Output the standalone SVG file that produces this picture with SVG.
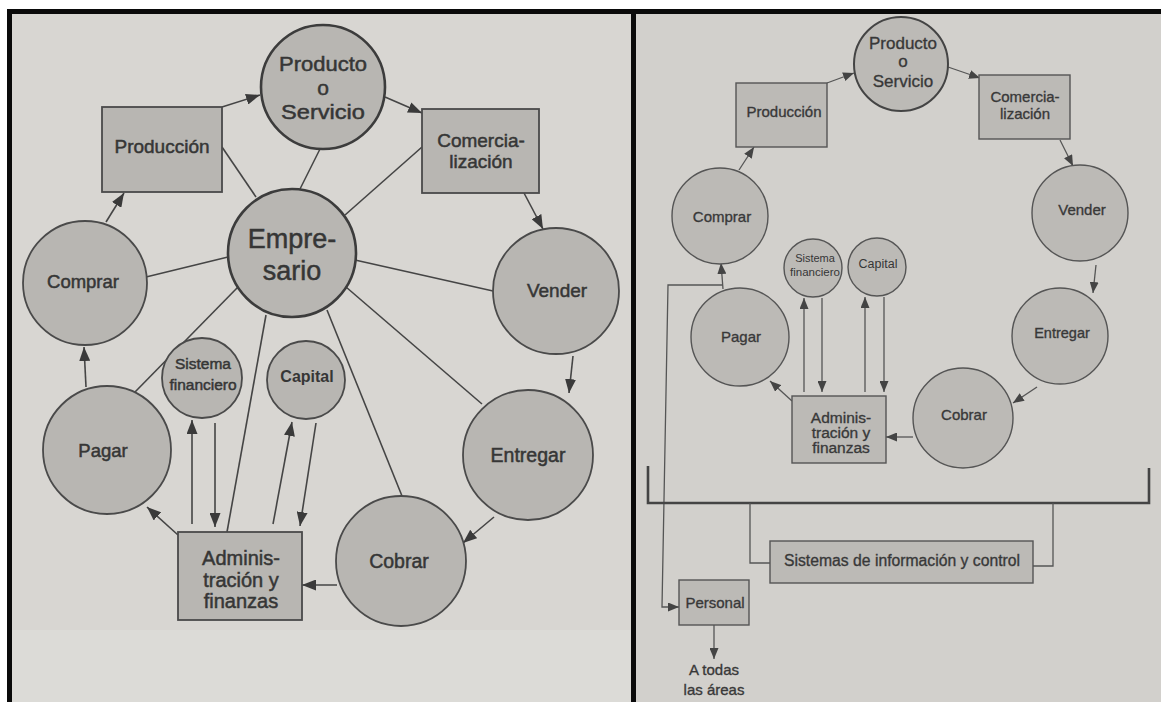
<svg xmlns="http://www.w3.org/2000/svg" width="1161" height="702" viewBox="0 0 1161 702">
  <defs>
    <style>
      .paperL { fill: #d8d6d2; }
      .paperR { fill: #d2d0cc; }
      .frame { fill: #0a0a0a; }
      .nodeL { fill: #b8b6b2; stroke: #4a4a4a; stroke-width: 1.8; }
      .nodeLb { fill: #b8b6b2; stroke: #3c3c3c; stroke-width: 2.6; }
      .nodeR { fill: #bcbab6; stroke: #555; stroke-width: 1.4; }
      .nodeRb { fill: #bcbab6; stroke: #444; stroke-width: 2; }
      .linkL { fill: none; stroke: #454545; stroke-width: 1.6; }
      .arrL { fill: none; stroke: #454545; stroke-width: 1.6; marker-end: url(#headL); }
      .linkR { fill: none; stroke: #555; stroke-width: 1.3; }
      .arrR { fill: none; stroke: #555; stroke-width: 1.3; marker-end: url(#headR); }
      .brace { fill: none; stroke: #444; stroke-width: 2.6; }
      text { font-family: "Liberation Sans", Arial, sans-serif; fill: #363636; text-anchor: middle; }
      .tl { stroke: #363636; stroke-width: 0.5; }
      .tr { stroke: #3e3e3e; stroke-width: 0.35; }
    </style>
    <marker id="headL" viewBox="0 0 10 10" refX="10" refY="5" markerUnits="userSpaceOnUse" markerWidth="14" markerHeight="11" orient="auto" preserveAspectRatio="none">
      <path d="M0,0 L10,5 L0,10 z" fill="#3a3a3a"/>
    </marker>
    <marker id="headR" viewBox="0 0 10 10" refX="10" refY="5" markerUnits="userSpaceOnUse" markerWidth="11" markerHeight="9" orient="auto" preserveAspectRatio="none">
      <path d="M0,0 L10,5 L0,10 z" fill="#444"/>
    </marker>
  </defs>

  <!-- page background and black frame -->
  <rect x="0" y="0" width="1161" height="702" fill="#ffffff"/>
  <rect class="paperL" x="7" y="9" width="627" height="693"/>
  <rect class="paperR" x="634" y="9" width="527" height="693"/>
  <rect x="12" y="630" width="619" height="72" fill="#dcdbd7"/>
  <rect class="frame" x="7" y="9" width="1154" height="5"/>
  <rect class="frame" x="7" y="9" width="5" height="693"/>
  <rect class="frame" x="631" y="9" width="5" height="693"/>

  <!-- ===== Left diagram: connectors ===== -->
  <g id="connectors-left">
    <line class="linkL" x1="256" y1="197" x2="222" y2="147"/>
    <line class="linkL" x1="300" y1="189" x2="320" y2="149"/>
    <line class="linkL" x1="345" y1="215" x2="422" y2="147"/>
    <line class="linkL" x1="228" y1="257" x2="146" y2="277"/>
    <line class="linkL" x1="355" y1="260" x2="493" y2="291"/>
    <line class="linkL" x1="238" y1="287" x2="135" y2="392"/>
    <line class="linkL" x1="266" y1="315" x2="227" y2="532"/>
    <line class="linkL" x1="327" y1="310" x2="402" y2="496"/>
    <line class="linkL" x1="346" y1="287" x2="482" y2="404"/>

    <line class="arrL" x1="222" y1="107" x2="260" y2="95"/>
    <line class="arrL" x1="385" y1="97" x2="422" y2="113"/>
    <line class="arrL" x1="524" y1="193" x2="543" y2="229"/>
    <line class="arrL" x1="573" y1="356" x2="569" y2="393"/>
    <line class="arrL" x1="494" y1="517" x2="463" y2="543"/>
    <line class="arrL" x1="337" y1="585" x2="302" y2="585"/>
    <line class="arrL" x1="178" y1="535" x2="147" y2="507"/>
    <line class="arrL" x1="86" y1="387" x2="84" y2="347"/>
    <line class="arrL" x1="106" y1="222" x2="124" y2="193"/>

    <line class="arrL" x1="192" y1="524" x2="192" y2="420"/>
    <line class="arrL" x1="215" y1="423" x2="215" y2="527"/>
    <line class="arrL" x1="273" y1="524" x2="292" y2="422"/>
    <line class="arrL" x1="316" y1="423" x2="300" y2="526"/>
  </g>

  <!-- ===== Left diagram: nodes ===== -->
  <g id="l-producto">
    <circle class="nodeLb" cx="323" cy="87" r="62"/>
    <text class="tl" font-size="21"><tspan x="323" y="71" textLength="88" lengthAdjust="spacingAndGlyphs">Producto</tspan><tspan x="323" y="95">o</tspan><tspan x="323" y="119" textLength="84" lengthAdjust="spacingAndGlyphs">Servicio</tspan></text>
  </g>
  <g id="l-produccion">
    <rect class="nodeL" x="102" y="107" width="120" height="85"/>
    <text class="tl" x="162" y="153" font-size="19">Producción</text>
  </g>
  <g id="l-comercializacion">
    <rect class="nodeL" x="422" y="109" width="117" height="84"/>
    <text class="tl" font-size="19"><tspan x="481" y="147">Comercia-</tspan><tspan x="481" y="168">lización</tspan></text>
  </g>
  <g id="l-empresario">
    <circle class="nodeLb" cx="292" cy="253" r="64"/>
    <text class="tl" font-size="27"><tspan x="292" y="248">Empre-</tspan><tspan x="292" y="280">sario</tspan></text>
  </g>
  <g id="l-comprar">
    <circle class="nodeL" cx="85" cy="283" r="62"/>
    <text class="tl" x="83" y="288" font-size="18.5">Comprar</text>
  </g>
  <g id="l-vender">
    <circle class="nodeL" cx="556" cy="291" r="63"/>
    <text class="tl" x="557" y="297" font-size="19">Vender</text>
  </g>
  <g id="l-sistema-financiero">
    <circle class="nodeL" cx="202" cy="378" r="40"/>
    <text class="tl" font-size="15.5"><tspan x="203" y="369">Sistema</tspan><tspan x="203" y="390">financiero</tspan></text>
  </g>
  <g id="l-capital">
    <circle class="nodeL" cx="306" cy="380" r="39"/>
    <text x="307" y="382" font-size="16" font-weight="bold">Capital</text>
  </g>
  <g id="l-pagar">
    <circle class="nodeL" cx="107" cy="450" r="64"/>
    <text class="tl" x="103" y="457" font-size="18.5">Pagar</text>
  </g>
  <g id="l-entregar">
    <circle class="nodeL" cx="528" cy="455" r="65"/>
    <text class="tl" x="528" y="462" font-size="19.5">Entregar</text>
  </g>
  <g id="l-cobrar">
    <circle class="nodeL" cx="401" cy="561" r="65"/>
    <text class="tl" x="399" y="568" font-size="19.5">Cobrar</text>
  </g>
  <g id="l-administracion">
    <rect class="nodeL" x="178" y="532" width="124" height="88"/>
    <text class="tl" font-size="20"><tspan x="241" y="565">Adminis-</tspan><tspan x="241" y="587">tración y</tspan><tspan x="241" y="608">finanzas</tspan></text>
  </g>

  <!-- ===== Right diagram: connectors ===== -->
  <g id="connectors-right">
    <line class="arrR" x1="827" y1="83" x2="854" y2="73"/>
    <line class="arrR" x1="948" y1="67" x2="980" y2="78"/>
    <line class="arrR" x1="1060" y1="140" x2="1073" y2="166"/>
    <line class="arrR" x1="739" y1="170" x2="754" y2="147"/>
    <line class="arrR" x1="723" y1="289" x2="721" y2="263"/>
    <line class="arrR" x1="1096" y1="265" x2="1093" y2="293"/>
    <line class="arrR" x1="1037" y1="387" x2="1013" y2="403"/>
    <line class="arrR" x1="913" y1="437" x2="886" y2="437"/>
    <line class="arrR" x1="792" y1="401" x2="770" y2="381"/>

    <line class="arrR" x1="804" y1="392" x2="804" y2="298"/>
    <line class="arrR" x1="822" y1="298" x2="822" y2="392"/>
    <line class="arrR" x1="865" y1="392" x2="865" y2="297"/>
    <line class="arrR" x1="884" y1="297" x2="884" y2="392"/>

    <polyline class="arrR" points="723,285 668,285 662,607 679,607"/>
    <line class="arrR" x1="714" y1="625" x2="714" y2="659"/>

    <polyline class="brace" points="648,466 648,503 1149,503 1149,468"/>
    <polyline class="linkR" points="750,503 750,563 770,563"/>
    <polyline class="linkR" points="1053,503 1053,566 1033,566"/>
  </g>

  <!-- ===== Right diagram: nodes ===== -->
  <g id="r-producto">
    <circle class="nodeRb" cx="901" cy="64" r="47"/>
    <text class="tr" font-size="17"><tspan x="903" y="49">Producto</tspan><tspan x="903" y="67">o</tspan><tspan x="903" y="87">Servicio</tspan></text>
  </g>
  <g id="r-produccion">
    <rect class="nodeR" x="736" y="83" width="91" height="64"/>
    <text class="tr" x="784" y="117" font-size="15">Producción</text>
  </g>
  <g id="r-comercializacion">
    <rect class="nodeR" x="979" y="75" width="91" height="64"/>
    <text class="tr" font-size="15"><tspan x="1025" y="102">Comercia-</tspan><tspan x="1025" y="119">lización</tspan></text>
  </g>
  <g id="r-comprar">
    <circle class="nodeR" cx="720" cy="216" r="48"/>
    <text class="tr" x="722" y="222" font-size="15">Comprar</text>
  </g>
  <g id="r-vender">
    <circle class="nodeR" cx="1080" cy="213" r="48"/>
    <text class="tr" x="1082" y="215" font-size="15">Vender</text>
  </g>
  <g id="r-sistema-financiero">
    <circle class="nodeR" cx="813" cy="268" r="29"/>
    <text font-size="11"><tspan x="815" y="262">Sistema</tspan><tspan x="815" y="276" font-size="11.5">financiero</tspan></text>
  </g>
  <g id="r-capital">
    <circle class="nodeR" cx="877" cy="267" r="29"/>
    <text x="878" y="268" font-size="12.5">Capital</text>
  </g>
  <g id="r-pagar">
    <circle class="nodeR" cx="740" cy="337" r="49"/>
    <text class="tr" x="741" y="342" font-size="15">Pagar</text>
  </g>
  <g id="r-entregar">
    <circle class="nodeR" cx="1060" cy="336" r="48"/>
    <text class="tr" x="1062" y="338" font-size="14.5">Entregar</text>
  </g>
  <g id="r-cobrar">
    <circle class="nodeR" cx="963" cy="418" r="50"/>
    <text class="tr" x="964" y="420" font-size="15">Cobrar</text>
  </g>
  <g id="r-administracion">
    <rect class="nodeR" x="792" y="396" width="94" height="67"/>
    <text class="tr" font-size="15.5"><tspan x="841" y="423">Adminis-</tspan><tspan x="841" y="438">tración y</tspan><tspan x="841" y="453">finanzas</tspan></text>
  </g>
  <g id="r-sistemas-informacion">
    <rect class="nodeR" x="770" y="541" width="263" height="42"/>
    <text class="tr" x="902" y="566" font-size="16" textLength="236" lengthAdjust="spacingAndGlyphs">Sistemas de información y control</text>
  </g>
  <g id="r-personal">
    <rect class="nodeR" x="679" y="580" width="70" height="45"/>
    <text class="tr" x="715" y="608" font-size="15">Personal</text>
  </g>
  <g id="r-todas-areas">
    <text class="tr" font-size="15"><tspan x="714" y="675">A todas</tspan><tspan x="714" y="695">las áreas</tspan></text>
  </g>
</svg>
